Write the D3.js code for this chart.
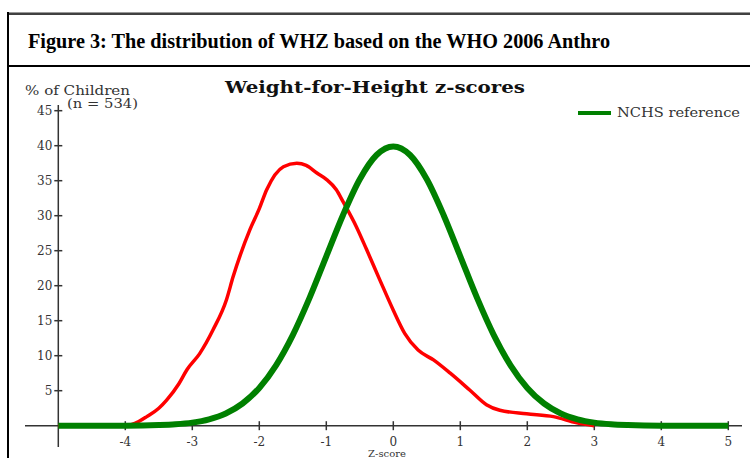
<!DOCTYPE html>
<html><head><meta charset="utf-8">
<script src="https://cdn.jsdelivr.net/npm/d3@7"></script>
<style>
html,body{margin:0;padding:0;background:#fff;overflow:hidden}
svg{display:block}
</style></head>
<body>
<svg id="c" width="750" height="458"></svg>
<script>
// ---- data ----
const figureTitle = "Figure 3: The distribution of WHZ based on the WHO 2006 Anthro";
const chartTitle = "Weight-for-Height z-scores";
const yLabel1 = "% of Children";
const yLabel2 = "(n = 534)";
const xLabel = "Z-score";
const legendLabel = "NCHS reference";
const xTicks = [-4, -3, -2, -1, 0, 1, 2, 3, 4, 5];
const yTicks = [5, 10, 15, 20, 25, 30, 35, 40, 45];

// observed sample (red)
const sampleZ   = [-5, -4, -3.8, -3.68, -3.5, -3.38, -3.2, -3.08, -2.89, -2.69, -2.49, -2.39, -2.14, -2.0, -1.89, -1.64, -1.44, -1.3, -1.14, -1.0, -0.85, -0.75, -0.55, -0.4, -0.2, 0, 0.17, 0.37, 0.6, 0.85, 1.14, 1.39, 1.59, 1.99, 2.39, 2.74, 3.0];
const samplePct = [0, 0, 0.6, 1.3, 2.5, 3.7, 6.0, 8.0, 10.3, 13.7, 18.0, 21.3, 28.0, 31.0, 33.7, 37.0, 37.5, 37.2, 36.1, 35.2, 33.7, 32.0, 28.4, 25.2, 20.8, 16.5, 13.2, 10.8, 9.4, 7.5, 5.1, 3.0, 2.2, 1.7, 1.3, 0.4, 0];

// NCHS reference (green)
const refZ   = [-5, -4, -3.5, -3.25, -3, -2.75, -2.5, -2.25, -2, -1.75, -1.5, -1.25, -1, -0.75, -0.5, -0.25, 0, 0.25, 0.5, 0.75, 1, 1.25, 1.5, 1.75, 2, 2.25, 2.5, 2.75, 3, 3.25, 3.5, 4, 5];
const refPct = [0, 0.01, 0.09, 0.20, 0.44, 0.91, 1.75, 3.17, 5.40, 8.63, 12.95, 18.26, 24.20, 30.11, 35.21, 38.67, 39.89, 38.67, 35.21, 30.11, 24.20, 18.26, 12.95, 8.63, 5.40, 3.17, 1.75, 0.91, 0.44, 0.20, 0.09, 0.01, 0];

// ---- drawing ----
const svg = d3.select("#c");

// frame
svg.append("line").attr("x1",7).attr("x2",760).attr("y1",12.5).attr("y2",12.5).attr("stroke","#999").attr("stroke-width",1);
svg.append("line").attr("x1",7).attr("x2",760).attr("y1",14).attr("y2",14).attr("stroke","#000").attr("stroke-width",1.5);
svg.append("line").attr("x1",8).attr("x2",8).attr("y1",12).attr("y2",470).attr("stroke","#000").attr("stroke-width",2);
svg.append("line").attr("x1",7).attr("x2",760).attr("y1",66).attr("y2",66).attr("stroke","#000").attr("stroke-width",2);

svg.append("text").attr("x",28).attr("y",48)
  .attr("font-family","'Liberation Serif', 'Times New Roman', serif")
  .attr("font-weight","bold").attr("font-size",21)
  .attr("textLength",582).attr("lengthAdjust","spacingAndGlyphs")
  .attr("fill","#000").text(figureTitle);

const x = d3.scaleLinear().domain([-5, 5]).range([58.3, 728.3]);
const y = d3.scaleLinear().domain([0, 45]).range([425.7, 110.7]);

const serif = "'DejaVu Serif', serif";
const axisCol = "#333";

// axes lines
svg.append("line").attr("x1",25).attr("x2",742).attr("y1",y(0)).attr("y2",y(0)).attr("stroke",axisCol).attr("stroke-width",1.5);
svg.append("line").attr("x1",x(-5)).attr("x2",x(-5)).attr("y1",105).attr("y2",447).attr("stroke",axisCol).attr("stroke-width",1.5);

// x ticks
const xg = svg.append("g");
xTicks.forEach(t => {
  xg.append("line").attr("x1",x(t)).attr("x2",x(t)).attr("y1",y(0)-4.5).attr("y2",y(0)+4.5).attr("stroke",axisCol).attr("stroke-width",1.5);
  xg.append("text").attr("x",x(t)).attr("y",446).attr("text-anchor","middle")
    .attr("font-family",serif).attr("font-size",12).attr("fill","#333").text(t);
});
// y ticks
const yg = svg.append("g");
yTicks.forEach(t => {
  yg.append("line").attr("x1",x(-5)-4).attr("x2",x(-5)+4).attr("y1",y(t)).attr("y2",y(t)).attr("stroke",axisCol).attr("stroke-width",1.5);
  yg.append("text").attr("x",x(-5)-6).attr("y",y(t)+4).attr("text-anchor","end")
    .attr("font-family",serif).attr("font-size",12).attr("fill","#333").text(t);
});

// labels
svg.append("text").attr("x",25).attr("y",95).attr("font-family",serif).attr("font-size",12)
  .attr("textLength",105).attr("lengthAdjust","spacingAndGlyphs").attr("fill","#333").text(yLabel1);
svg.append("text").attr("x",67).attr("y",108).attr("font-family",serif).attr("font-size",12)
  .attr("textLength",71).attr("lengthAdjust","spacingAndGlyphs").attr("fill","#333").text(yLabel2);
svg.append("text").attr("x",225).attr("y",93).attr("font-family",serif).attr("font-weight","bold").attr("font-size",17)
  .attr("textLength",300).attr("lengthAdjust","spacingAndGlyphs").attr("fill","#111").text(chartTitle);
svg.append("text").attr("x",387).attr("y",457).attr("text-anchor","middle").attr("font-family",serif).attr("font-size",10)
  .attr("fill","#333").text(xLabel);

// legend
svg.append("line").attr("x1",578).attr("x2",611).attr("y1",113).attr("y2",113).attr("stroke","#008000").attr("stroke-width",4);
svg.append("text").attr("x",617).attr("y",117).attr("font-family",serif).attr("font-size",12)
  .attr("textLength",123).attr("lengthAdjust","spacingAndGlyphs").attr("fill","#333").text(legendLabel);

// curves
const line = d3.line().x(d => x(d[0])).y(d => y(d[1])).curve(d3.curveMonotoneX);
svg.append("path").datum(sampleZ.map((z,i)=>[z,samplePct[i]]))
  .attr("d",line).attr("fill","none").attr("stroke","#ff0000").attr("stroke-width",3.5).attr("stroke-linejoin","round");
svg.append("path").datum(refZ.map((z,i)=>[z,refPct[i]]))
  .attr("d",line).attr("fill","none").attr("stroke","#008000").attr("stroke-width",6).attr("stroke-linejoin","round");
</script>
</body></html>
